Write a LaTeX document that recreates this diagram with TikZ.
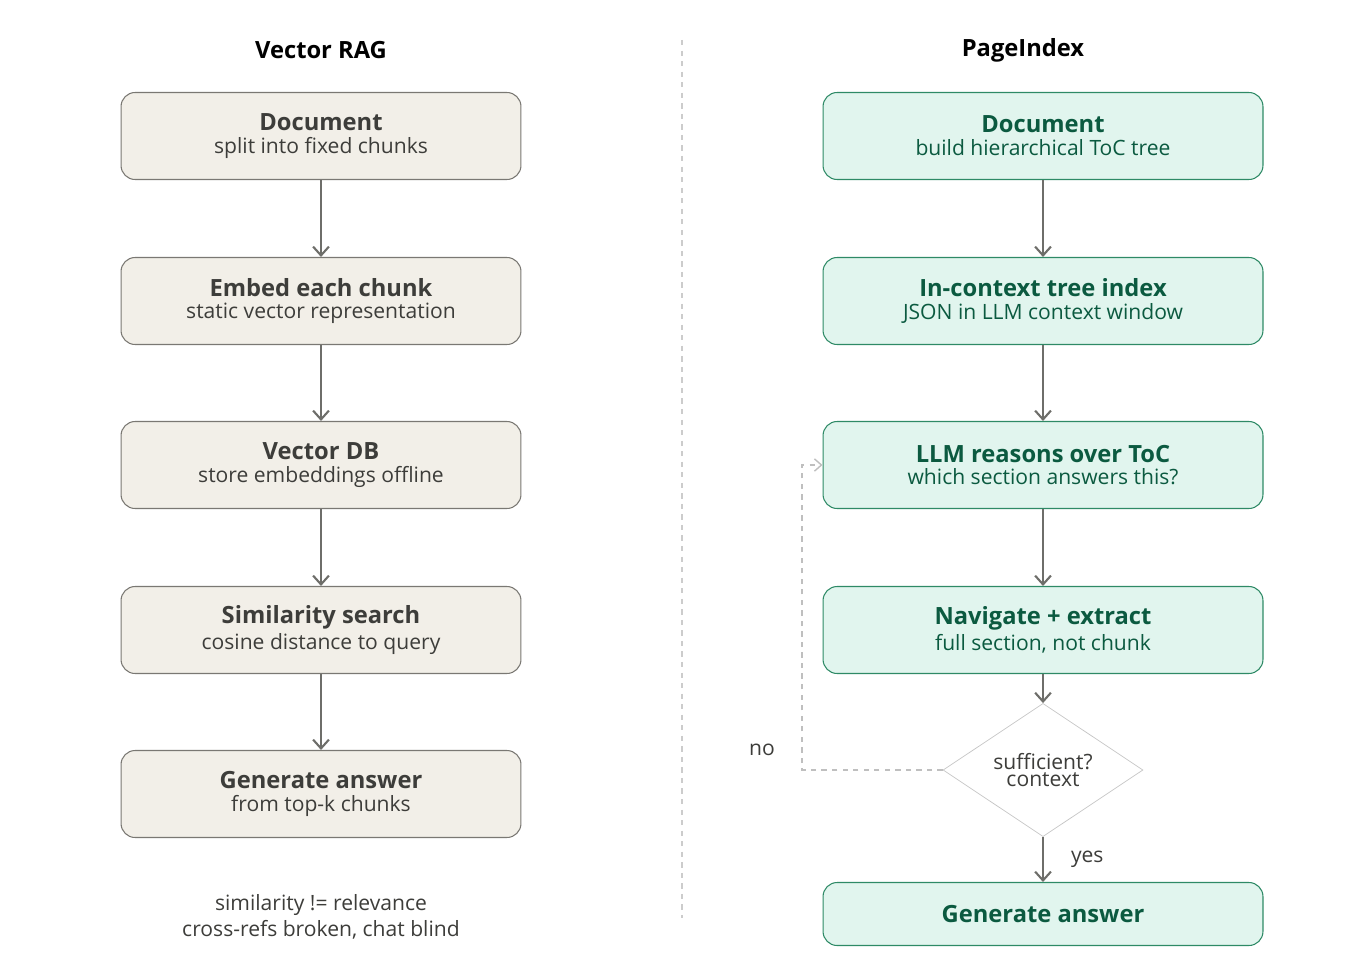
\documentclass[tikz,border=0pt]{standalone}
\usepackage{fontspec}
\setmainfont{Open Sans}
\usetikzlibrary{arrows.meta,shapes.geometric}
\definecolor{warmfill}{HTML}{F2EFE8}
\definecolor{warmline}{HTML}{7A7873}
\definecolor{warmtext}{HTML}{3D3D3A}
\definecolor{mintfill}{HTML}{E1F5EE}
\definecolor{mintline}{HTML}{2E8A66}
\definecolor{minttext}{HTML}{0B5A40}
\definecolor{arrowgray}{HTML}{6E6E6A}
\tikzset{
  vbox/.style={draw=warmline, fill=warmfill, rounded corners=8pt, minimum width=8cm, minimum height=1.74cm, align=center, text=warmtext, line width=0.6pt},
  pbox/.style={draw=mintline, fill=mintfill, rounded corners=8pt, minimum width=8.8cm, minimum height=1.74cm, align=center, text=minttext, line width=0.6pt},
  flow/.style={-{Straight Barb[length=5pt,width=9pt]}, arrowgray, line width=1.2pt},
  head/.style={font=\bfseries\fontsize{13.5}{17}\selectfont},
  sub/.style={font=\fontsize{12}{15}\selectfont}
}
\newcommand{\twoline}[2]{{\bfseries\fontsize{13.5}{17}\selectfont #1}\\[1pt]{\fontsize{12}{15}\selectfont #2}}
\begin{document}
\begin{tikzpicture}[x=0.02cm,y=-0.02cm]
  \useasboundingbox (0,0) rectangle (1364,966);
  % titles and divider
  \node[head] (vtitle) at (321,50) {Vector RAG};
  \node[head] (ptitle) at (1023,50) {PageIndex};
  \draw[dashed, gray!40, line width=0.6pt] (682,40) -- (682,918);
  % vector RAG column
  \node[vbox] (vdoc) at (321,136) {\twoline{Document}{split into fixed chunks}};
  \node[vbox] (vemb) at (321,301) {\twoline{Embed each chunk}{static vector representation}};
  \node[vbox] (vdb) at (321,465) {\twoline{Vector DB}{store embeddings offline}};
  \node[vbox] (vsim) at (321,630) {\twoline{Similarity search}{cosine distance to query}};
  \node[vbox] (vgen) at (321,794) {\twoline{Generate answer}{from top-k chunks}};
  \node[sub, text=warmtext, align=center] (vnote) at (321,917) {similarity != relevance\\cross-refs broken, chat blind};
  \draw[flow] (vdoc) -- (vemb);
  \draw[flow] (vemb) -- (vdb);
  \draw[flow] (vdb) -- (vsim);
  \draw[flow] (vsim) -- (vgen);
  % PageIndex column
  \node[pbox] (pdoc) at (1043,136) {\twoline{Document}{build hierarchical ToC tree}};
  \node[pbox] (ptree) at (1043,301) {\twoline{In-context tree index}{JSON in LLM context window}};
  \node[pbox] (preason) at (1043,465) {\twoline{LLM reasons over ToC}{which section answers this?}};
  \node[pbox] (pnav) at (1043,630) {\twoline{Navigate + extract}{full section, not chunk}};
  \node[diamond, draw=gray!45, fill=white, minimum width=4cm, minimum height=2.4cm, inner sep=0pt, align=center, text=warmtext, sub] (pcheck) at (1043,770) {sufficient?\\[-5pt]context};
  \node[pbox, minimum height=1.26cm] (pgen) at (1043,914) {{\bfseries\fontsize{13.5}{17}\selectfont Generate answer}};
  \coordinate (loopcorner) at (802,770);
  \coordinate (looptop) at (802,465);
  \draw[flow] (pdoc) -- (ptree);
  \draw[flow] (ptree) -- (preason);
  \draw[flow] (preason) -- (pnav);
  \draw[flow] (pnav) -- (pcheck);
  \draw[flow] (pcheck) -- node[right=12pt, sub, text=warmtext] {yes} (pgen);
  \draw[dashed, gray!50, line width=0.8pt, -{Straight Barb[length=4pt,width=7pt]}] (pcheck.west) -- (loopcorner) -- (looptop) -- (preason.west);
  \node[sub, text=warmtext] (nolabel) at (762,750) {no};
\end{tikzpicture}
\end{document}
